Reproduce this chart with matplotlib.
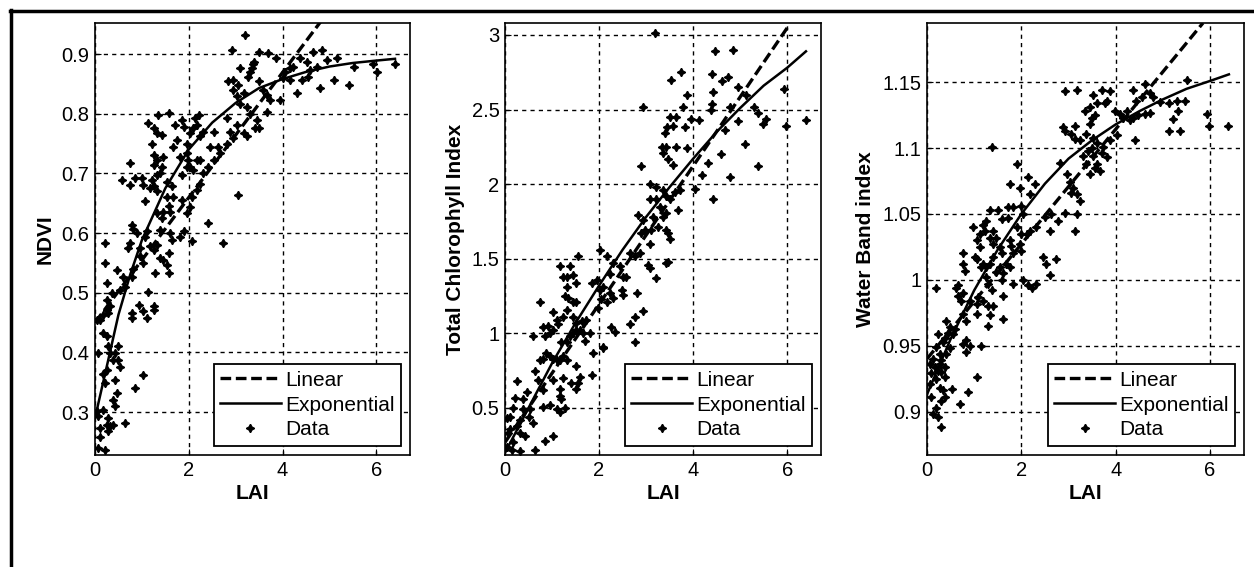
import numpy as np
import matplotlib
matplotlib.use('Agg')
import matplotlib.pyplot as plt
from matplotlib.lines import Line2D

plt.rcParams['font.family'] = ['Liberation Sans', 'DejaVu Sans']

# ---------------------------------------------------------------- data (LAI, index)
ndvi_pts = [
    (3.20, 0.932), (2.92, 0.907), (3.49, 0.904), (3.70, 0.901), (3.86, 0.893),
    (3.40, 0.887), (3.37, 0.884), (3.34, 0.876), (3.30, 0.870), (3.27, 0.862),
    (3.10, 0.876), (2.95, 0.857), (2.83, 0.854), (3.05, 0.848), (3.17, 0.834),
    (3.49, 0.854), (3.59, 0.840), (3.67, 0.831), (3.74, 0.823), (3.67, 0.803),
    (3.95, 0.823), (4.23, 0.879), (4.38, 0.893), (4.52, 0.887), (4.66, 0.904),
    (4.84, 0.907), (4.16, 0.856), (4.41, 0.856), (4.31, 0.834), (4.80, 0.843),
    (5.09, 0.856), (5.41, 0.848), (5.52, 0.879), (5.94, 0.884), (6.01, 0.870),
    (6.41, 0.884), (4.95, 0.890), (5.16, 0.893), (4.59, 0.873), (4.73, 0.879),
    (4.55, 0.862), (4.06, 0.870), (4.16, 0.876), (4.02, 0.859), (2.95, 0.840),
    (3.02, 0.829), (3.10, 0.817), (3.24, 0.812), (3.31, 0.800), (3.42, 0.776),
    (3.49, 0.776), (3.45, 0.790), (2.81, 0.792), (3.02, 0.781), (3.17, 0.767),
    (3.24, 0.762), (2.88, 0.770), (2.67, 0.734), (2.81, 0.750), (2.95, 0.759),
    (2.53, 0.723), (2.42, 0.711), (2.31, 0.700), (2.24, 0.683), (2.17, 0.672),
    (2.06, 0.661), (2.63, 0.745), (2.46, 0.745), (2.24, 0.723), (2.24, 0.762),
    (2.31, 0.770), (2.53, 0.770), (2.10, 0.776), (2.03, 0.767), (1.96, 0.750),
    (1.96, 0.734), (1.99, 0.723), (2.03, 0.711), (2.17, 0.723), (2.10, 0.706),
    (1.89, 0.778), (1.85, 0.790), (2.14, 0.792), (2.21, 0.798), (2.17, 0.781),
    (1.71, 0.781), (1.74, 0.756), (1.67, 0.745), (1.81, 0.728), (1.96, 0.711),
    (1.85, 0.697), (1.35, 0.798), (1.57, 0.801), (1.32, 0.767), (1.42, 0.765),
    (1.14, 0.784), (1.25, 0.776), (1.21, 0.750), (1.25, 0.731), (1.32, 0.723),
    (1.46, 0.728), (1.42, 0.711), (1.25, 0.714), (1.32, 0.697), (1.39, 0.700),
    (1.53, 0.686), (1.64, 0.678), (1.67, 0.661), (1.21, 0.689), (1.25, 0.678),
    (1.32, 0.670), (1.17, 0.675), (1.00, 0.692), (1.03, 0.681), (1.07, 0.653),
    (0.75, 0.717), (0.57, 0.689), (0.75, 0.681), (0.85, 0.692), (1.53, 0.661),
    (1.57, 0.645), (1.60, 0.636), (1.46, 0.636), (1.32, 0.633), (1.42, 0.625),
    (1.39, 0.605), (1.60, 0.600), (1.64, 0.589), (1.89, 0.603), (1.81, 0.594),
    (1.96, 0.633), (2.03, 0.644), (1.85, 0.656), (2.06, 0.586), (2.42, 0.617),
    (2.74, 0.583), (3.06, 0.664), (1.10, 0.603), (1.17, 0.578), (1.25, 0.572),
    (1.39, 0.558), (1.46, 0.555), (1.32, 0.580), (1.57, 0.567), (1.53, 0.547),
    (1.57, 0.533), (1.28, 0.533), (1.25, 0.478), (0.78, 0.614), (0.82, 0.606),
    (0.75, 0.583), (0.71, 0.575), (0.89, 0.600), (0.96, 0.575), (1.07, 0.594),
    (0.96, 0.561), (1.03, 0.550), (0.82, 0.539), (0.78, 0.527), (1.14, 0.502),
    (0.78, 0.466), (0.78, 0.458), (0.93, 0.480), (1.03, 0.469), (1.10, 0.458),
    (1.25, 0.471), (0.60, 0.527), (0.64, 0.510), (0.53, 0.505), (0.46, 0.538),
    (0.21, 0.583), (0.21, 0.549), (0.25, 0.516), (0.25, 0.488), (0.32, 0.477),
    (0.25, 0.471), (0.36, 0.500), (0.04, 0.455), (0.11, 0.455), (0.18, 0.463),
    (0.28, 0.466), (0.18, 0.433), (0.25, 0.427), (0.28, 0.410), (0.32, 0.399),
    (0.43, 0.399), (0.50, 0.388), (0.07, 0.399), (0.39, 0.388), (0.43, 0.354),
    (0.25, 0.371), (0.18, 0.363), (0.21, 0.349), (0.39, 0.321), (0.43, 0.310),
    (0.46, 0.332), (0.64, 0.282), (0.85, 0.340), (1.03, 0.362), (0.04, 0.301),
    (0.07, 0.293), (0.18, 0.304), (0.11, 0.273), (0.25, 0.279), (0.28, 0.268),
    (0.32, 0.276), (0.39, 0.279), (0.11, 0.259), (0.21, 0.237), (0.07, 0.240),
    (0.28, 0.290), (0.50, 0.410), (0.53, 0.376),
]

tci_pts = [
    (3.20, 3.01), (4.46, 2.89), (4.85, 2.90), (3.54, 2.70), (3.75, 2.75),
    (4.41, 2.74), (4.62, 2.69), (4.74, 2.72), (4.95, 2.65), (5.12, 2.60),
    (5.94, 2.64), (4.42, 2.62), (3.86, 2.60), (2.94, 2.52), (3.50, 2.45),
    (3.64, 2.45), (3.79, 2.52), (3.96, 2.44), (4.12, 2.43), (4.41, 2.54),
    (4.39, 2.50), (4.78, 2.52), (5.29, 2.52), (5.37, 2.48), (5.54, 2.44),
    (5.49, 2.40), (5.98, 2.39), (6.40, 2.43), (4.67, 2.36), (4.95, 2.42),
    (3.45, 2.38), (3.58, 2.39), (3.41, 2.34), (3.34, 2.25), (3.43, 2.25),
    (3.36, 2.21), (3.47, 2.17), (3.57, 2.13), (3.64, 2.25), (3.82, 2.38),
    (3.86, 2.24), (5.10, 2.27), (4.60, 2.20), (4.32, 2.14), (4.19, 2.06),
    (4.78, 2.05), (5.38, 2.12), (4.05, 1.97), (4.42, 1.90), (2.90, 2.12),
    (3.08, 2.00), (3.22, 1.98), (3.36, 1.96), (3.43, 1.92), (3.50, 1.90),
    (3.61, 1.95), (3.72, 1.96), (3.08, 1.90), (3.22, 1.90), (3.29, 1.85),
    (3.36, 1.78), (3.43, 1.81), (3.68, 1.83), (2.83, 1.79), (2.94, 1.76),
    (3.15, 1.78), (2.97, 1.69), (3.11, 1.69), (3.26, 1.71), (3.43, 1.69),
    (3.47, 1.67), (3.50, 1.63), (2.90, 1.67), (3.08, 1.60), (2.87, 1.54),
    (2.76, 1.52), (2.65, 1.54), (3.04, 1.46), (3.08, 1.44), (3.22, 1.37),
    (3.43, 1.47), (3.47, 1.48), (2.02, 1.56), (2.16, 1.52), (2.30, 1.47),
    (2.44, 1.45), (2.51, 1.38), (2.58, 1.38), (2.23, 1.40), (1.95, 1.36),
    (1.84, 1.34), (2.02, 1.29), (2.09, 1.31), (2.23, 1.27), (2.30, 1.24),
    (2.05, 1.23), (1.98, 1.17), (2.16, 1.21), (2.48, 1.29), (2.51, 1.26),
    (2.80, 1.27), (2.76, 1.11), (2.94, 1.15), (2.65, 1.06), (2.76, 0.94),
    (2.26, 1.04), (2.33, 1.01), (2.09, 0.91), (1.88, 0.87), (1.80, 1.00),
    (1.73, 1.09), (1.70, 0.95), (1.63, 1.08), (1.56, 1.52), (1.38, 1.45),
    (1.45, 1.39), (1.31, 1.38), (1.52, 1.34), (1.17, 1.45), (1.24, 1.38),
    (1.31, 1.31), (1.27, 1.25), (1.34, 1.24), (1.45, 1.21), (1.52, 1.21),
    (1.31, 1.16), (1.45, 1.11), (1.52, 1.07), (1.59, 1.02), (1.66, 1.00),
    (1.38, 0.98), (1.45, 1.00), (1.52, 1.02), (1.31, 0.94), (1.20, 0.94),
    (1.24, 0.85), (1.24, 1.11), (1.10, 1.09), (1.13, 1.06), (1.03, 1.02),
    (0.96, 1.00), (0.74, 1.21), (1.03, 1.14), (0.81, 1.04), (0.85, 0.98),
    (0.92, 1.05), (0.60, 0.98), (0.74, 0.82), (0.81, 0.83), (0.88, 0.87),
    (0.96, 0.85), (1.03, 0.83), (1.10, 0.82), (1.17, 0.82), (1.31, 0.82),
    (1.52, 0.78), (1.59, 0.71), (1.56, 0.67), (1.52, 0.63), (1.03, 0.69),
    (1.24, 0.70), (1.17, 0.63), (1.41, 0.67), (0.64, 0.75), (0.71, 0.69),
    (0.81, 0.62), (0.81, 0.51), (0.96, 0.52), (1.10, 0.49), (1.17, 0.47),
    (1.27, 0.50), (1.84, 0.72), (2.09, 0.90), (1.20, 0.56), (1.17, 0.58),
    (0.25, 0.68), (0.46, 0.61), (0.53, 0.49), (0.32, 0.42), (0.39, 0.56),
    (0.21, 0.57), (0.18, 0.50), (0.11, 0.44), (0.25, 0.38), (0.32, 0.33),
    (0.07, 0.33), (0.18, 0.27), (0.04, 0.24), (0.14, 0.22), (0.32, 0.21),
    (0.42, 0.31), (0.60, 0.40), (0.64, 0.22), (0.85, 0.28), (1.03, 0.31),
    (0.50, 0.44), (0.39, 0.49), (0.04, 0.43), (0.11, 0.36),
]

wbi_pts = [
    (1.37, 1.101), (2.92, 1.143), (3.18, 1.144), (3.52, 1.140), (3.72, 1.144),
    (3.88, 1.143), (3.81, 1.136), (3.77, 1.134), (3.35, 1.128), (3.45, 1.131),
    (3.60, 1.134), (3.49, 1.123), (3.45, 1.118), (3.56, 1.125), (3.98, 1.128),
    (4.09, 1.126), (4.16, 1.123), (4.23, 1.128), (4.30, 1.121), (4.37, 1.144),
    (4.44, 1.136), (4.55, 1.139), (4.62, 1.149), (4.73, 1.142), (4.80, 1.139),
    (5.51, 1.152), (4.94, 1.135), (5.12, 1.134), (5.29, 1.136), (5.33, 1.128),
    (5.47, 1.136), (4.37, 1.123), (4.48, 1.125), (4.62, 1.126), (4.73, 1.127),
    (5.22, 1.122), (5.12, 1.113), (5.36, 1.113), (5.93, 1.126), (5.97, 1.117),
    (6.39, 1.117), (4.41, 1.106), (4.02, 1.110), (2.89, 1.116), (2.92, 1.113),
    (3.14, 1.117), (3.06, 1.111), (3.14, 1.107), (3.25, 1.106), (3.38, 1.111),
    (3.52, 1.108), (3.60, 1.104), (3.49, 1.100), (3.42, 1.098), (3.52, 1.094),
    (3.70, 1.096), (3.74, 1.101), (3.88, 1.106), (3.31, 1.094), (3.38, 1.088),
    (3.60, 1.088), (3.67, 1.083), (3.45, 1.080), (3.56, 1.085), (3.81, 1.093),
    (2.82, 1.089), (2.96, 1.080), (3.03, 1.074), (3.10, 1.070), (3.17, 1.065),
    (3.24, 1.060), (3.06, 1.066), (2.92, 1.051), (3.17, 1.050), (3.13, 1.037),
    (2.60, 1.037), (2.78, 1.045), (2.63, 1.050), (2.50, 1.048), (2.32, 1.040),
    (2.18, 1.037), (2.11, 1.035), (2.46, 1.017), (2.53, 1.012), (2.60, 1.004),
    (2.74, 1.016), (2.04, 1.000), (2.14, 0.996), (2.22, 0.994), (2.32, 0.997),
    (1.90, 1.088), (1.76, 1.073), (1.97, 1.070), (2.14, 1.078), (2.28, 1.073),
    (2.18, 1.065), (1.83, 1.055), (2.00, 1.056), (2.04, 1.050), (1.90, 1.040),
    (2.00, 1.035), (1.97, 1.027), (2.00, 1.022), (1.76, 1.030), (1.79, 1.026),
    (1.83, 1.020), (1.68, 1.012), (1.76, 1.010), (1.83, 0.997), (1.61, 1.005),
    (1.54, 1.010), (1.47, 1.006), (1.58, 1.000), (1.61, 0.988), (1.61, 0.970),
    (1.40, 1.037), (1.47, 1.032), (1.40, 1.027), (1.54, 1.025), (1.58, 1.020),
    (1.40, 1.017), (1.33, 1.012), (1.33, 1.053), (1.50, 1.053), (1.58, 1.046),
    (1.26, 1.045), (1.19, 1.042), (1.22, 1.037), (1.33, 1.032), (1.12, 1.035),
    (1.72, 1.055), (1.72, 1.047), (0.98, 1.040), (1.05, 1.030), (1.12, 1.025),
    (1.01, 1.017), (1.15, 1.010), (1.26, 1.002), (1.30, 0.997), (1.37, 0.992),
    (1.05, 1.016), (1.19, 1.012), (1.26, 1.010), (1.19, 0.984), (1.30, 0.980),
    (1.40, 0.980), (1.33, 0.973), (1.30, 0.965), (0.76, 1.020), (0.76, 1.012),
    (0.80, 1.007), (0.66, 0.996), (0.76, 0.990), (0.91, 0.984), (1.05, 0.982),
    (1.05, 0.974), (1.08, 0.987), (0.20, 0.994), (0.62, 0.994), (0.66, 0.988),
    (0.73, 0.984), (0.76, 0.974), (0.83, 0.969), (0.41, 0.969), (0.48, 0.964),
    (0.45, 0.960), (0.38, 0.956), (0.34, 0.953), (0.23, 0.959), (0.83, 0.954),
    (0.76, 0.951), (0.91, 0.950), (0.83, 0.945), (1.15, 0.950), (0.20, 0.949),
    (0.27, 0.944), (0.13, 0.940), (0.30, 0.939), (0.41, 0.944), (0.48, 0.948),
    (0.06, 0.936), (0.16, 0.934), (0.23, 0.931), (0.30, 0.930), (0.38, 0.926),
    (0.38, 0.934), (0.27, 0.936), (0.09, 0.929), (0.20, 0.925), (0.27, 0.918),
    (0.34, 0.916), (0.38, 0.911), (0.30, 0.908), (0.20, 0.903), (0.13, 0.898),
    (0.23, 0.896), (0.09, 0.911), (0.06, 0.921), (0.30, 0.888), (1.05, 0.926),
    (0.87, 0.915), (0.69, 0.906), (0.52, 0.917), (0.55, 0.959), (0.59, 0.963),
]

# fitted curves
ndvi_lin_x = [0.0, 4.85]
ndvi_lin_y = [0.450, 0.958]
ndvi_exp_x = [0.0, 0.25, 0.5, 0.75, 1.0, 1.5, 2.0, 2.5, 3.0, 3.5, 4.0, 4.5, 5.0, 5.5, 6.0, 6.4]
ndvi_exp_y = [0.290, 0.376, 0.463, 0.530, 0.588, 0.675, 0.740, 0.785, 0.818, 0.843, 0.858, 0.870, 0.879, 0.885, 0.889, 0.892]

tci_lin_x = [0.0, 6.05]
tci_lin_y = [0.270, 3.070]
tci_exp_x = [0.0, 0.5, 1.0, 1.5, 2.0, 2.5, 3.0, 3.5, 4.0, 4.5, 5.0, 5.5, 6.0, 6.4]
tci_exp_y = [0.20, 0.50, 0.80, 1.07, 1.32, 1.56, 1.78, 1.98, 2.17, 2.35, 2.51, 2.66, 2.78, 2.89]

wbi_lin_x = [0.0, 5.85]
wbi_lin_y = [0.940, 1.195]
wbi_exp_x = [0.0, 0.5, 1.0, 1.5, 2.0, 2.5, 3.0, 3.5, 4.0, 4.5, 5.0, 5.5, 6.0, 6.4]
wbi_exp_y = [0.913, 0.955, 0.992, 1.023, 1.050, 1.073, 1.092, 1.106, 1.118, 1.128, 1.137, 1.145, 1.151, 1.156]

panels = [
    ('NDVI', ndvi_pts, ndvi_lin_x, ndvi_lin_y, ndvi_exp_x, ndvi_exp_y, (0.228, 0.952),
     [0.3, 0.4, 0.5, 0.6, 0.7, 0.8, 0.9], ['0.3', '0.4', '0.5', '0.6', '0.7', '0.8', '0.9']),
    ('Total Chlorophyll Index', tci_pts, tci_lin_x, tci_lin_y, tci_exp_x, tci_exp_y, (0.185, 3.08),
     [0.5, 1, 1.5, 2, 2.5, 3], ['0.5', '1', '1.5', '2', '2.5', '3']),
    ('Water Band index', wbi_pts, wbi_lin_x, wbi_lin_y, wbi_exp_x, wbi_exp_y, (0.867, 1.195),
     [0.9, 0.95, 1, 1.05, 1.1, 1.15], ['0.9', '0.95', '1', '1.05', '1.1', '1.15']),
]
xticks = [0, 2, 4, 6]

# ---------------------------------------------------------------- figure
W, H = 1254, 567
fig = plt.figure(figsize=(W / 100, H / 100), dpi=100)

boxes = [(95, 410), (505, 821), (927, 1244)]   # left/right pixel edges of each axes
top_px, bot_px = 23, 455

for (name, pts, lx, ly, ex, ey, ylim, yt, ytl), (l, r) in zip(panels, boxes):
    ax = fig.add_axes([l / W, 1 - bot_px / H, (r - l) / W, (bot_px - top_px) / H])
    pts = np.array(pts)

    ax.plot(lx, ly, color='black', linewidth=2.4, dashes=(3.2, 1.4), label='Linear')
    ax.plot(ex, ey, color='black', linewidth=1.8, label='Exponential')
    ax.plot(pts[:, 0], pts[:, 1], linestyle='none', marker=(4, 1, 0), markersize=6,
            color='black', label='Data')

    ax.set_xlim(0, 6.72)
    ax.set_ylim(*ylim)
    ax.set_xticks(xticks)
    ax.set_yticks(yt)
    ax.set_yticklabels(ytl)
    ax.grid(True, color='black', linestyle=(0, (3, 3)), linewidth=1.0)
    ax.tick_params(direction='in', length=4, labelsize=14.5, colors='black', pad=4)
    for s in ax.spines.values():
        s.set_linewidth(1.2)

    ax.set_xlabel('LAI', fontsize=15, fontweight='bold', labelpad=3)
    ax.set_ylabel(name, fontsize=15, fontweight='bold', labelpad=5)

    leg = ax.legend(loc='lower right', fontsize=15, frameon=True, fancybox=False,
                    framealpha=1, edgecolor='black', borderaxespad=0.45,
                    handlelength=2.9, handletextpad=0.2, labelspacing=0.28,
                    borderpad=0.3)
    leg.get_frame().set_linewidth(1.3)

# thick frame round the whole figure (right and bottom edges cut off)
fig.add_artist(Line2D([11 / W, 11 / W], [0, 1 - 10 / H], color='black', linewidth=2.5))
fig.add_artist(Line2D([10 / W, 1], [1 - 11 / H, 1 - 11 / H], color='black', linewidth=2.5))

plt.savefig('out.png', dpi=100)
